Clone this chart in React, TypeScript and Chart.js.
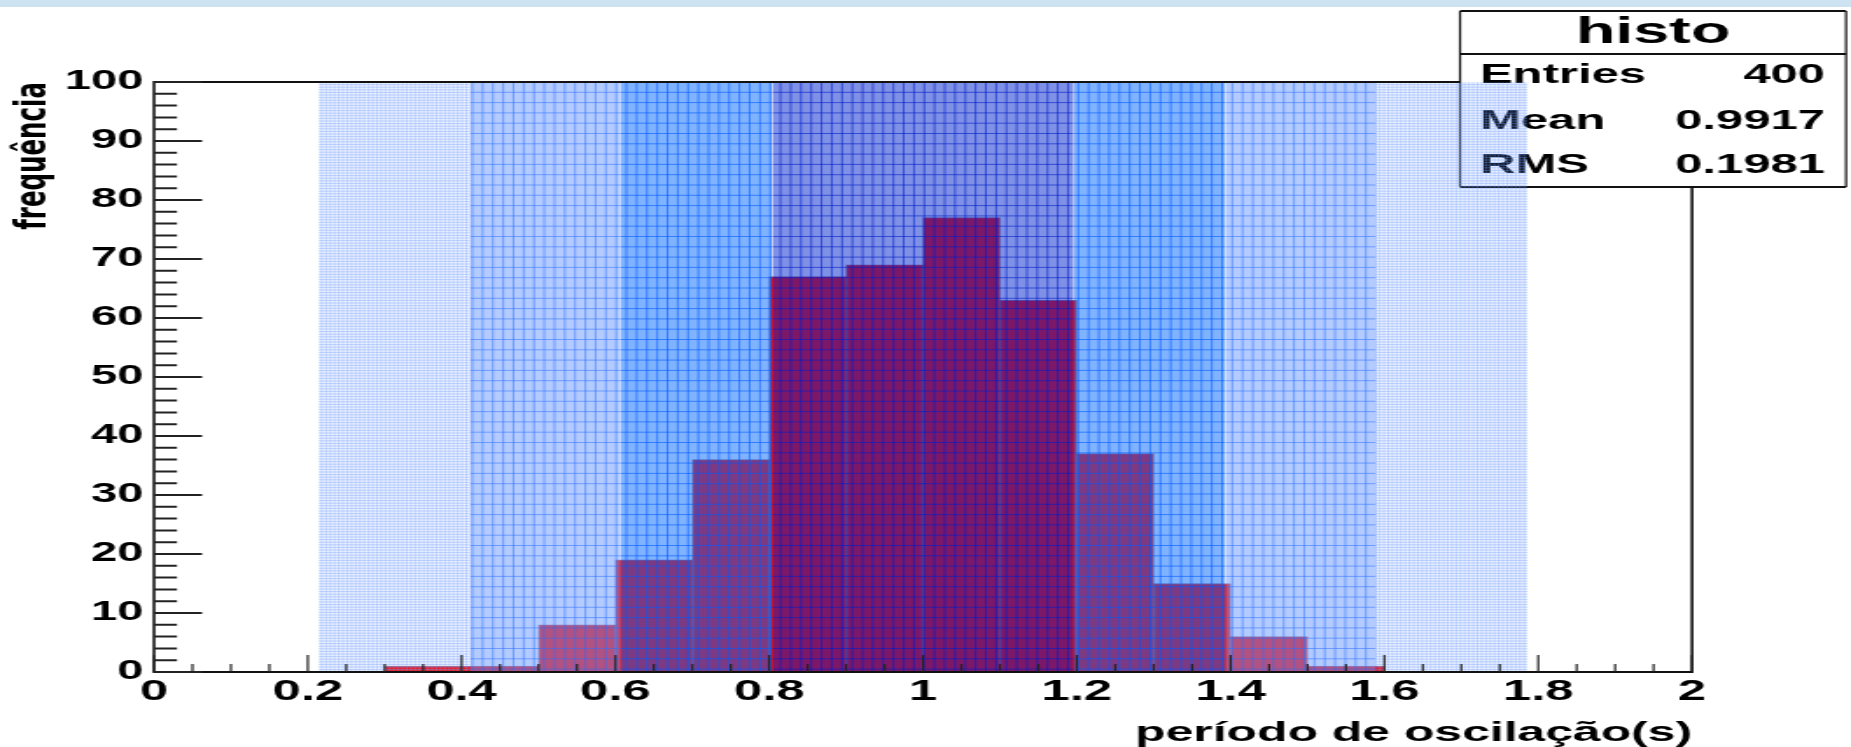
import React, { useEffect, useRef } from "react";
import { Chart, registerables } from "chart.js";

Chart.register(...registerables);

// ---------- data ----------
const binCenters = [0.35, 0.45, 0.55, 0.65, 0.75, 0.85, 0.95, 1.05, 1.15, 1.25, 1.35, 1.45, 1.55];
const counts = [1, 1, 8, 19, 36, 67, 69, 77, 63, 37, 15, 6, 1];

const xMin = 0;
const xMax = 2;
const xStep = 0.2;
const xMinorStep = 0.05;
const yMin = 0;
const yMax = 100;
const yStep = 10;
const yMinorStep = 2;

const xTitle = "período de oscilação(s)";
const yTitle = "frequência";

const statsTitle = "histo";
const statsLabels = ["Entries", "Mean", "RMS"];
const statsValues = ["400", "0.9917", "0.1981"];

// shaded sigma bands (x ranges)
const bandOuter = [
  [0.214, 0.411],
  [1.589, 1.786],
];
const band3 = [
  [0.411, 0.607],
  [1.393, 1.589],
];
const band2 = [
  [0.607, 0.804],
  [1.196, 1.393],
];
const band1 = [[0.804, 1.196]];

// ---------- layout / style ----------
const OUT_W = 1851;
const OUT_H = 747;
const CW = 1058; // canvas bitmap width, stretched horizontally to OUT_W
const CH = 747;
const K = OUT_W / CW;

const FONT = "'Liberation Sans', Arial, Helvetica, sans-serif";

const bandStyles = [
  { ranges: bandOuter, fill: "rgba(0,0,0,0)", line: "rgba(110,155,255,0.38)", sx: 1.7, sy: 2.6 },
  { ranges: band3, fill: "rgba(103,151,255,0.5)", line: "rgba(40,110,255,0.5)", sx: 10.27 / K, sy: 10.3 },
  { ranges: band2, fill: "rgba(0,103,255,0.5)", line: "rgba(0,90,255,0.6)", sx: 10.27 / K, sy: 10.3 },
  { ranges: band1, fill: "rgba(0,35,205,0.5)", line: "rgba(0,30,200,0.6)", sx: 10.27 / K, sy: 10.3 },
];

const BOX = { x0: 1460 / K, x1: 1846 / K, y0: 11, y1: 187, sep: 54 };

const decorPlugin = {
  id: "rootDecor",
  beforeDraw(chart: any) {
    const ctx = chart.ctx;
    ctx.save();
    ctx.fillStyle = "#cde3f2";
    ctx.fillRect(0, 0, chart.width, 7);
    ctx.restore();
  },
  afterDatasetsDraw(chart: any) {
    const { ctx, chartArea: ca, scales } = chart;
    const xs = scales.x;
    const ys = scales.y;

    // ---- stats box ----
    ctx.save();
    ctx.fillStyle = "#ffffff";
    ctx.fillRect(BOX.x0, BOX.y0, BOX.x1 - BOX.x0, BOX.y1 - BOX.y0);
    ctx.strokeStyle = "#111";
    ctx.lineWidth = 2;
    ctx.beginPath();
    ctx.moveTo(BOX.x0, BOX.y0);
    ctx.lineTo(BOX.x1, BOX.y0);
    ctx.moveTo(BOX.x0, BOX.y1);
    ctx.lineTo(BOX.x1, BOX.y1);
    ctx.moveTo(BOX.x0, BOX.sep);
    ctx.lineTo(BOX.x1, BOX.sep);
    ctx.stroke();
    ctx.lineWidth = 1.2;
    ctx.beginPath();
    ctx.moveTo(BOX.x0, BOX.y0);
    ctx.lineTo(BOX.x0, BOX.y1);
    ctx.moveTo(BOX.x1, BOX.y0);
    ctx.lineTo(BOX.x1, BOX.y1);
    ctx.stroke();
    ctx.fillStyle = "#000";
    ctx.font = `bold 37px ${FONT}`;
    ctx.textAlign = "center";
    ctx.textBaseline = "alphabetic";
    ctx.fillText(statsTitle, (BOX.x0 + BOX.x1) / 2, 43);
    ctx.font = `bold 28px ${FONT}`;
    const baselines = [83, 128.5, 173];
    statsLabels.forEach((lab, i) => {
      ctx.textAlign = "left";
      ctx.fillText(lab, 1480 / K, baselines[i]);
      ctx.textAlign = "right";
      ctx.fillText(statsValues[i], 1825 / K, baselines[i]);
    });
    ctx.restore();

    // ---- sigma bands (overlaid, semi-transparent) ----
    for (const st of bandStyles) {
      for (const [a, b] of st.ranges) {
        const x0 = xs.getPixelForValue(a);
        const x1 = xs.getPixelForValue(b);
        ctx.save();
        ctx.beginPath();
        ctx.rect(x0, ca.top, x1 - x0, ca.bottom - ca.top);
        ctx.clip();
        ctx.fillStyle = st.fill;
        ctx.fillRect(x0, ca.top, x1 - x0, ca.bottom - ca.top);
        ctx.strokeStyle = st.line;
        ctx.lineWidth = 1;
        ctx.beginPath();
        for (let x = ca.left; x <= ca.right; x += st.sx) {
          if (x >= x0 - 1 && x <= x1 + 1) {
            ctx.moveTo(x, ca.top);
            ctx.lineTo(x, ca.bottom);
          }
        }
        for (let y = ca.top + st.sy; y <= ca.bottom; y += st.sy) {
          ctx.moveTo(x0, y);
          ctx.lineTo(x1, y);
        }
        ctx.stroke();
        ctx.restore();
      }
    }

    // ---- frame ----
    ctx.save();
    ctx.strokeStyle = "#111";
    ctx.lineWidth = 2;
    ctx.beginPath();
    ctx.moveTo(ca.left, ca.bottom);
    ctx.lineTo(ca.right, ca.bottom);
    ctx.moveTo(ca.left, ca.top);
    ctx.lineTo(BOX.x0, ca.top);
    ctx.stroke();
    ctx.lineWidth = 1.6;
    ctx.beginPath();
    ctx.moveTo(ca.left, ca.top - 1);
    ctx.lineTo(ca.left, ca.bottom + 1);
    ctx.moveTo(ca.right, BOX.y1);
    ctx.lineTo(ca.right, ca.bottom + 1);
    ctx.stroke();

    // y ticks (inside)
    ctx.lineWidth = 2;
    ctx.strokeStyle = "#222";
    ctx.beginPath();
    for (let v = yMin; v <= yMax + 1e-9; v += yMinorStep) {
      const isMajor = Math.abs(v / yStep - Math.round(v / yStep)) < 1e-6;
      const len = isMajor ? 48 / K : 23 / K;
      const py = ys.getPixelForValue(v);
      ctx.moveTo(ca.left, py);
      ctx.lineTo(ca.left + len, py);
    }
    ctx.stroke();

    // x ticks (inside)
    ctx.lineWidth = 1.2;
    ctx.beginPath();
    for (let i = 0; xMin + i * xMinorStep <= xMax + 1e-9; i++) {
      const v = xMin + i * xMinorStep;
      const isMajor = Math.abs(v / xStep - Math.round(v / xStep)) < 1e-6;
      const len = isMajor ? 17 : 8;
      const px = xs.getPixelForValue(v);
      ctx.moveTo(px, ca.bottom);
      ctx.lineTo(px, ca.bottom - len);
    }
    ctx.stroke();
    ctx.restore();
  },
};

export default function App() {
  const canvasRef = useRef<HTMLCanvasElement | null>(null);

  useEffect(() => {
    const canvas = canvasRef.current;
    if (!canvas) return;
    const chart = new Chart(canvas, {
      type: "bar",
      data: {
        datasets: [
          {
            data: binCenters.map((x, i) => ({ x, y: counts[i] })),
            backgroundColor: "rgb(250,12,5)",
            borderColor: "rgba(110,0,40,0.6)",
            borderWidth: 1,
            barPercentage: 1,
            categoryPercentage: 1,
          },
        ],
      },
      options: {
        animation: false,
        responsive: false,
        maintainAspectRatio: false,
        devicePixelRatio: 1,
        layout: { padding: { left: 0, top: 82, right: CW - 1692 / K, bottom: 0 } },
        plugins: {
          legend: { display: false },
          tooltip: { enabled: false },
        },
        scales: {
          x: {
            type: "linear",
            min: xMin,
            max: xMax,
            offset: false,
            grid: { display: false, drawTicks: false, offset: false },
            border: { display: false },
            ticks: {
              stepSize: xStep,
              padding: 3,
              color: "#000",
              autoSkip: false,
              maxRotation: 0,
              font: { family: FONT, size: 29, weight: "bold" },
              callback: (v: any) => String(Math.round(Number(v) * 10) / 10),
            },
            title: {
              display: true,
              text: xTitle,
              align: "end",
              color: "#000",
              font: { family: FONT, size: 28.5, weight: "bold", lineHeight: 1.0 },
              padding: { top: 0, bottom: 0 },
            },
            afterFit: (s: any) => {
              s.height = 75;
            },
          },
          y: {
            type: "linear",
            min: yMin,
            max: yMax,
            grid: { display: false, drawTicks: false },
            border: { display: false },
            ticks: {
              stepSize: yStep,
              padding: 6,
              color: "#000",
              font: { family: FONT, size: 27, weight: "bold" },
            },
            title: {
              display: true,
              text: yTitle,
              align: "end",
              color: "#000",
              font: { family: "'DejaVu Sans', sans-serif", size: 24.5, weight: "bold" },
              padding: { top: 4.5, bottom: 0 },
            },
            afterFit: (s: any) => {
              s.width = 154 / K;
            },
          },
        },
      },
      plugins: [decorPlugin],
    } as any);
    return () => chart.destroy();
  }, []);

  return (
    <div style={{ position: "fixed", left: 0, top: 0, width: OUT_W, height: OUT_H, background: "#fff", overflow: "hidden" }}>
      <canvas
        ref={canvasRef}
        width={CW}
        height={CH}
        style={{ width: `${OUT_W}px`, height: `${OUT_H}px`, display: "block" }}
      />
    </div>
  );
}
